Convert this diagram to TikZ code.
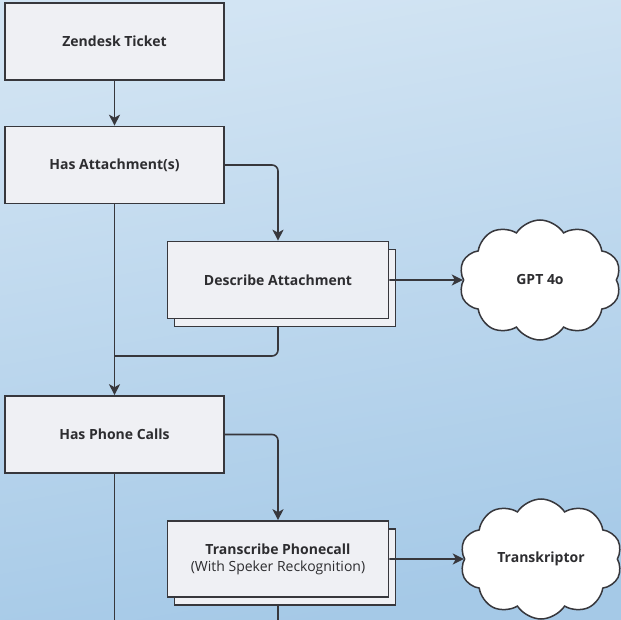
\documentclass[tikz,border=0pt]{standalone}
\usepackage{fontspec}
\setmainfont{Open Sans}
\usepackage{tikz}
\usetikzlibrary{positioning,shapes,shapes.symbols,shadows,arrows.meta}

\definecolor{bgtop}{RGB}{210,228,243}
\definecolor{bgbottom}{RGB}{165,201,231}
\definecolor{boxfill}{RGB}{239,240,244}
\definecolor{edge}{RGB}{55,55,60}
\definecolor{txt}{RGB}{45,45,48}

\tikzset{
  flowbox/.style={draw=edge, line width=1.6pt, fill=boxfill, rectangle,
    minimum width=219pt, minimum height=77pt, align=center, text=txt,
    font=\bfseries\fontsize{14}{17}\selectfont},
  stackbox/.style={flowbox, minimum width=221pt,
    copy shadow={shadow xshift=7pt, shadow yshift=-8pt}},
  service/.style={draw=edge, line width=1.5pt, fill=white, cloud, cloud puffs=10,
    cloud puff arc=115, aspect=1.35, minimum width=162pt, minimum height=120pt,
    text=txt, font=\bfseries\fontsize{14}{17}\selectfont},
  link/.style={draw=edge, line width=1.6pt, rounded corners=6pt},
  arr/.style={link, -{Stealth[length=11pt,width=11pt,inset=3pt]}}
}

\begin{document}
\begin{tikzpicture}[x=1pt,y=1pt]
\useasboundingbox (0,0) rectangle (621,-620);
\shade[top color=bgtop, bottom color=bgbottom, shading angle=10] (0,0) rectangle (621,-620);

% free ends and the merge point
\coordinate (merge) at (114.5,-356);
\coordinate (endA) at (114.5,-620);
\coordinate (endB) at (278,-620);

% lines below the boxes
\draw[link] (114.5,-203) -- (merge);
\draw[link] (278,-318) |- (merge);
\draw[link] (114.5,-473) -- (endA);
\draw[link] (278,-597) -- (endB);

\node[flowbox] (ticket) at (114.5,-41.5) {Zendesk Ticket};
\node[flowbox] (attach) at (114.5,-165) {Has Attachment(s)};
\node[stackbox] (describe) at (278,-280) {Describe Attachment};
\node[service] (gpt) at (540,-280) {GPT 4o};
\node[flowbox] (phone) at (114.5,-434.5) {Has Phone Calls};
\node[stackbox, minimum height=76pt] (transcribe) at (278,-559)
  {Transcribe Phonecall\\[0pt]{\mdseries (With Speker Reckognition)}};
\node[service] (transk) at (541,-559) {Transkriptor};

\draw[arr] (ticket) -- (attach);
\draw[arr] (attach.east) -| (describe.north);
\draw[arr] (describe.east) -- (gpt.west);
\draw[arr] (merge) -- (phone.north);
\draw[arr] (phone.east) -| (transcribe.north);
\draw[arr] (transcribe.east) -- (transk.west);

\end{tikzpicture}
\end{document}
